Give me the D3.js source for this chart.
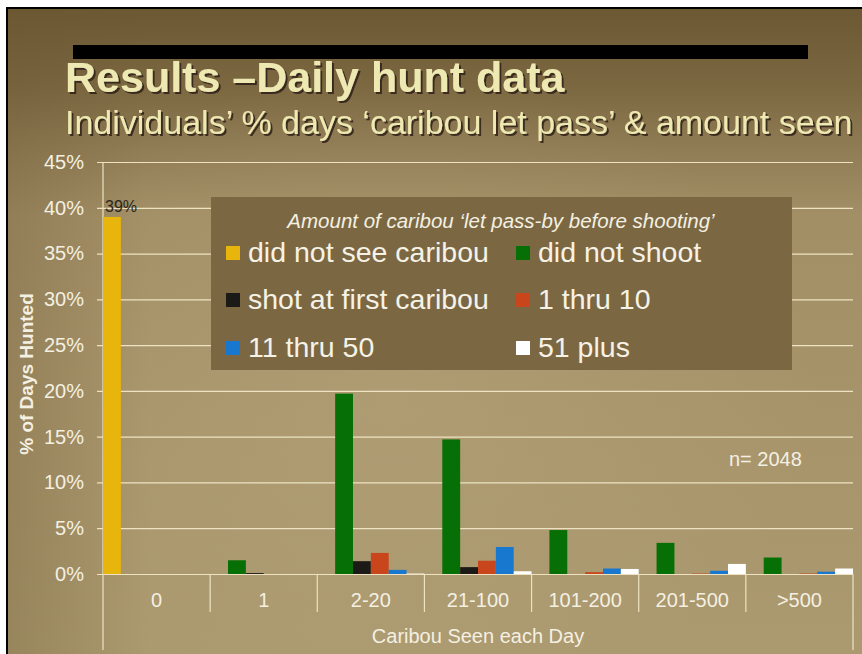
<!DOCTYPE html>
<html>
<head>
<meta charset="utf-8">
<script src="https://cdn.jsdelivr.net/npm/d3@7"></script>
<style>
  html, body { margin: 0; padding: 0; background: #ffffff; }
  svg { display: block; font-family: "Liberation Sans", Arial, Helvetica, sans-serif; }
</style>
</head>
<body>
<svg id="chart" width="862" height="654"></svg>
<script>
// Caribou seen each day (x categories)
const categories = ["0", "1", "2-20", "21-100", "101-200", "201-500", ">500"];

// Percent of days hunted, one list per "let pass" group
const didNotSeeCaribou = [39, 0, 0, 0, 0, 0, 0];
const didNotShoot      = [0, 1.5, 19.7, 14.7, 4.8, 3.4, 1.8];
const shotAtFirst      = [0, 0.1, 1.4, 0.75, 0, 0, 0];
const thru1to10        = [0, 0, 2.3, 1.45, 0.2, 0.05, 0.05];
const thru11to50       = [0, 0, 0.45, 2.95, 0.6, 0.35, 0.25];
const plus51           = [0, 0, 0.05, 0.3, 0.55, 1.1, 0.6];

const seriesNames = ["did not see caribou", "did not shoot", "shot at first caribou",
                     "1 thru 10", "11 thru 50", "51 plus"];
const seriesValues = [didNotSeeCaribou, didNotShoot, shotAtFirst, thru1to10, thru11to50, plus51];
const seriesColors = ["#E8B50C", "#067006", "#1C1A16", "#C9461C", "#1878D0", "#FFFFFF"];

const yTicks = [0, 5, 10, 15, 20, 25, 30, 35, 40, 45];

const svg = d3.select("#chart");
const W = 862, H = 654;

// ---- slide background ----
const defs = svg.append("defs");
const bg = defs.append("linearGradient").attr("id", "bgGrad")
  .attr("x1", 0).attr("y1", 0).attr("x2", 0).attr("y2", 1);
[[0, "#6C5833"], [0.12, "#7B6740"], [0.22, "#917D55"], [0.32, "#A38F66"], [1, "#AB996F"]]
  .forEach(([o, c]) => bg.append("stop").attr("offset", o).attr("stop-color", c));
const side = defs.append("linearGradient").attr("id", "sideGrad")
  .attr("x1", 0).attr("y1", 0).attr("x2", 1).attr("y2", 0);
[[0, "#6A5732", 0.3], [1, "#6A5732", 0]]
  .forEach(([o, c, op]) => side.append("stop").attr("offset", o).attr("stop-color", c).attr("stop-opacity", op));
const glow = defs.append("radialGradient").attr("id", "glow")
  .attr("cx", 0.45).attr("cy", 0.6).attr("r", 0.5);
[[0, "#C2B088", 0.3], [1, "#C2B088", 0]]
  .forEach(([o, c, op]) => glow.append("stop").attr("offset", o).attr("stop-color", c).attr("stop-opacity", op));

// drop shadow used by the heading texts
const shadow = defs.append("filter").attr("id", "textShadow")
  .attr("x", "-5%").attr("y", "-20%").attr("width", "110%").attr("height", "150%");
shadow.append("feDropShadow").attr("dx", 2).attr("dy", 2).attr("stdDeviation", 0.6)
  .attr("flood-color", "#2E2412").attr("flood-opacity", 0.85);

svg.append("rect").attr("x", 0).attr("y", 0).attr("width", W).attr("height", H).attr("fill", "#ffffff");
svg.append("rect").attr("x", 8).attr("y", 9).attr("width", W - 8).attr("height", H - 9).attr("fill", "url(#bgGrad)");
svg.append("rect").attr("x", 8).attr("y", 9).attr("width", W - 8).attr("height", H - 9).attr("fill", "url(#glow)");
svg.append("rect").attr("x", 8).attr("y", 9).attr("width", 140).attr("height", H - 9).attr("fill", "url(#sideGrad)");
svg.append("path").attr("d", `M7,${H} V8 H${W}`).attr("fill", "none").attr("stroke", "#000").attr("stroke-width", 2);

// heading bar
svg.append("rect").attr("x", 73).attr("y", 45).attr("width", 735).attr("height", 14).attr("fill", "#000");

// ---- titles ----
svg.append("text").attr("x", 65).attr("y", 92).text("Results \u2013Daily hunt data")
  .attr("font-size", 43).attr("font-weight", "bold").attr("fill", "#EEE8B2")
  .attr("filter", "url(#textShadow)");
svg.append("text").attr("x", 65).attr("y", 134)
  .text("Individuals\u2019 % days \u2018caribou let pass\u2019 & amount seen")
  .attr("font-size", 34).attr("fill", "#EEE8B2")
  .attr("filter", "url(#textShadow)");

// ---- scales ----
const plotLeft = 103, plotRight = 853, plotTop = 162, plotBottom = 574;
const x = d3.scaleBand().domain(categories).range([plotLeft, plotRight]).padding(0);
const xInner = d3.scaleBand().domain(d3.range(seriesNames.length)).range([0, x.bandwidth()]).padding(0);
const y = d3.scaleLinear().domain([0, 45]).range([plotBottom, plotTop]);

// gridlines
const grid = svg.append("g").attr("transform", `translate(97,0)`)
  .call(d3.axisLeft(y).tickValues(yTicks).tickSize(-(plotRight - 97)).tickFormat(""));
grid.select(".domain").remove();
grid.selectAll("line").attr("stroke", "#EDE3C2").attr("stroke-width", 1.2);

// y tick labels
const yAxis = svg.append("g").attr("transform", `translate(97,0)`)
  .call(d3.axisLeft(y).tickValues(yTicks).tickSize(0).tickPadding(13).tickFormat(d => d + "%"));
yAxis.select(".domain").remove();
yAxis.selectAll("text").attr("font-size", 20).attr("fill", "#F4F0E2")
  .attr("font-family", "'Liberation Sans', Arial, sans-serif");

// axis & category separators
svg.append("line").attr("x1", plotLeft).attr("x2", plotLeft).attr("y1", plotTop).attr("y2", 650)
  .attr("stroke", "#EDE3C2").attr("stroke-width", 1.2);
categories.forEach((c, i) => {
  if (i === 0) return;
  svg.append("line").attr("x1", x(c)).attr("x2", x(c)).attr("y1", plotBottom).attr("y2", 612)
    .attr("stroke", "#EDE3C2").attr("stroke-width", 1.2);
});
svg.append("line").attr("x1", plotRight).attr("x2", plotRight).attr("y1", plotBottom).attr("y2", 650)
  .attr("stroke", "#EDE3C2").attr("stroke-width", 1.2);

// ---- bars ----
const barData = [];
categories.forEach((c, ci) => {
  seriesValues.forEach((vals, si) => {
    barData.push({ cat: c, s: si, v: vals[ci] });
  });
});
svg.append("g").selectAll("rect").data(barData.filter(d => d.v > 0)).join("rect")
  .attr("x", d => x(d.cat) + xInner(d.s))
  .attr("y", d => y(d.v))
  .attr("width", xInner.bandwidth())
  .attr("height", d => y(0) - y(d.v))
  .attr("fill", d => seriesColors[d.s]);

// value label on the first bar
svg.append("text")
  .attr("x", x(categories[0]) + xInner(0) + 2)
  .attr("y", y(didNotSeeCaribou[0]) - 5)
  .attr("font-size", 16).attr("fill", "#2A2620")
  .text(didNotSeeCaribou[0] + "%");

// x category labels
const xAxis = svg.append("g").attr("transform", `translate(0,${plotBottom})`)
  .call(d3.axisBottom(x).tickSize(0).tickPadding(19));
xAxis.select(".domain").remove();
xAxis.selectAll("text").attr("font-size", 20).attr("fill", "#F4F0E2")
  .attr("font-family", "'Liberation Sans', Arial, sans-serif");

// axis titles
svg.append("text").attr("x", (plotLeft + plotRight) / 2).attr("y", 643)
  .attr("text-anchor", "middle").attr("font-size", 20).attr("fill", "#F4F0E2")
  .text("Caribou Seen each Day");
svg.append("text").attr("transform", "translate(33,374) rotate(-90)")
  .attr("text-anchor", "middle").attr("font-size", 19).attr("font-weight", "bold").attr("fill", "#F4F0E2")
  .text("% of Days Hunted");

// sample size note
svg.append("text").attr("x", 729).attr("y", 466).attr("font-size", 20).attr("fill", "#F4F0E2")
  .text("n= 2048");

// ---- legend ----
const lg = svg.append("g");
lg.append("rect").attr("x", 211).attr("y", 197).attr("width", 581).attr("height", 173)
  .attr("fill", "#7B6843");
lg.append("text").attr("x", 501).attr("y", 228).attr("text-anchor", "middle")
  .attr("font-size", 20.5).attr("font-style", "italic").attr("fill", "#F4F0E2")
  .text("Amount of caribou \u2018let pass-by before shooting\u2019");
const colX = [226, 516], rowY = [252, 299, 347];
seriesNames.forEach((name, i) => {
  const cx = colX[i % 2], cy = rowY[Math.floor(i / 2)];
  lg.append("rect").attr("x", cx).attr("y", cy - 6).attr("width", 14).attr("height", 14)
    .attr("fill", seriesColors[i]);
  lg.append("text").attr("x", cx + 22).attr("y", cy + 10)
    .attr("font-size", 28.5).attr("fill", "#F6F2E6").text(name);
});
</script>
</body>
</html>
